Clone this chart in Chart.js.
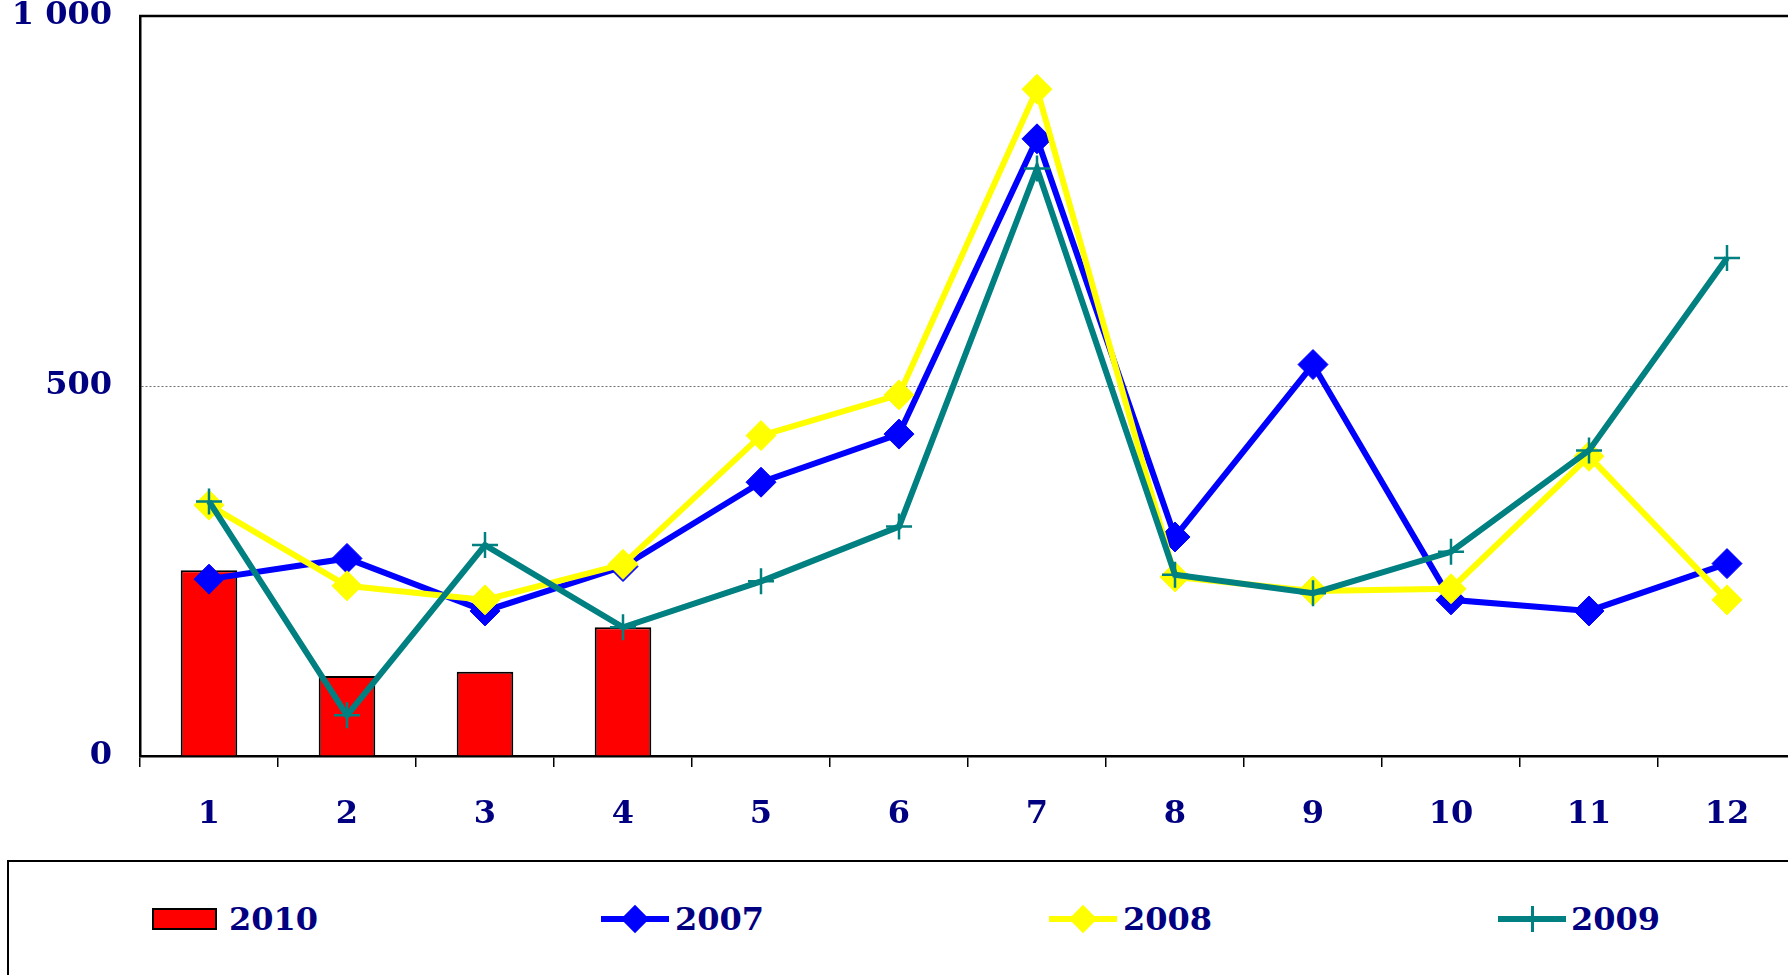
<!DOCTYPE html>
<html>
<head>
<meta charset="utf-8">
<script src="https://cdn.jsdelivr.net/npm/chart.js@4/dist/chart.umd.min.js"></script>
<style>
  html, body { margin: 0; padding: 0; background: #fff; overflow: hidden; }
  #wrap { position: relative; width: 1788px; height: 975px; overflow: hidden; }
  #chart { position: absolute; left: 0; top: 0; }
  #legend {
    position: absolute; left: 7px; top: 860px; width: 1800px; height: 140px;
    border: 2.5px solid #000; box-sizing: border-box;
  }
  .lab {
    position: absolute; font: bold 32px "DejaVu Serif", serif; color: #000080;
    line-height: 38px;
  }
  .sym { position: absolute; }
</style>
</head>
<body>
<div id="wrap">
  <!-- plot area runs a few px past the right edge, as in the original -->
  <canvas id="chart" width="1796" height="860"></canvas>
  <div id="legend"></div>
</div>
<script>
const months = ['1', '2', '3', '4', '5', '6', '7', '8', '9', '10', '11', '12'];
const yTickLabels = ['0', '500', '1 000'];

const v2010 = [251, 108, 114, 174];
const v2007 = [239, 267, 196, 256, 370, 435, 834, 296, 529, 211, 196, 260];
const v2008 = [339, 230, 211, 259, 433, 488, 901, 242, 223, 226, 405, 211];
const v2009 = [344, 55, 285, 174, 236, 310, 794, 245, 220, 276, 413, 673];

const navy = '#000080';
const tickFont = { family: 'DejaVu Serif', weight: 'bold', size: 32 };

// top frame line of the plot area
const topBorder = {
    id: 'topBorder',
    afterDraw(chart) {
        const { ctx, chartArea } = chart;
        ctx.save();
        ctx.strokeStyle = '#000';
        ctx.lineWidth = 2.5;
        ctx.beginPath();
        ctx.moveTo(chartArea.left - 1, chartArea.top);
        ctx.lineTo(chartArea.right, chartArea.top);
        ctx.stroke();
        ctx.restore();
    }
};

new Chart(document.getElementById('chart'), {
    data: {
        labels: months,
        datasets: [
            {
                type: 'bar', label: '2010', data: v2010, order: 4,
                backgroundColor: '#ff0000', borderColor: '#000', borderWidth: 2,
                barPercentage: 0.41, categoryPercentage: 1
            },
            {
                type: 'line', label: '2007', data: v2007, order: 3,
                borderColor: '#0000ff', borderWidth: 6, backgroundColor: '#0000ff',
                pointStyle: 'rectRot', pointRadius: 15, pointBorderWidth: 1,
                pointBorderColor: '#0000ff', pointBackgroundColor: '#0000ff', tension: 0
            },
            {
                type: 'line', label: '2008', data: v2008, order: 2,
                borderColor: '#ffff00', borderWidth: 6, backgroundColor: '#ffff00',
                pointStyle: 'rectRot', pointRadius: 15, pointBorderWidth: 1,
                pointBorderColor: '#ffff00', pointBackgroundColor: '#ffff00', tension: 0
            },
            {
                type: 'line', label: '2009', data: v2009, order: 1,
                borderColor: '#008080', borderWidth: 6, backgroundColor: '#008080',
                pointStyle: 'cross', pointRadius: 13, pointBorderWidth: 2.5,
                pointBorderColor: '#008080', tension: 0
            }
        ]
    },
    options: {
        responsive: false,
        animation: false,
        layout: { autoPadding: false, padding: 0 },
        plugins: {
            legend: { display: false },
            tooltip: { enabled: false }
        },
        scales: {
            x: {
                offset: true,
                grid: {
                    offset: true, drawOnChartArea: false, drawTicks: true,
                    tickLength: 11, color: '#000', lineWidth: 1.5
                },
                border: { display: true, color: '#000', width: 2.5 },
                ticks: { color: navy, font: tickFont, padding: 28, maxRotation: 0 },
                afterFit: s => { s.height = 104; s.paddingLeft = 0; s.paddingRight = 0; }
            },
            y: {
                min: 0, max: 1000,
                ticks: {
                    stepSize: 500, color: navy, font: tickFont, padding: 28,
                    callback: (v, i) => yTickLabels[i]
                },
                grid: {
                    drawTicks: false, lineWidth: 1,
                    color: c => c.tick && c.tick.value === 500 ? '#707070' : 'rgba(0,0,0,0)'
                },
                border: { display: true, color: '#000', width: 2.5, dash: [2, 2] },
                afterFit: s => { s.width = 140; s.paddingTop = 16; s.paddingBottom = 0; }
            }
        }
    },
    plugins: [topBorder]
});

// legend built as html, one entry per series
const legendItems = [
    { text: '2010', kind: 'box', color: '#ff0000', x: 143, tx: 220 },
    { text: '2007', kind: 'diamond', color: '#0000ff', x: 592, tx: 666 },
    { text: '2008', kind: 'diamond', color: '#ffff00', x: 1040, tx: 1114 },
    { text: '2009', kind: 'cross', color: '#008080', x: 1489, tx: 1562 }
];
const legendEl = document.getElementById('legend');
const cy = 57;
legendItems.forEach(it => {
    if (it.kind === 'box') {
        const b = document.createElement('div');
        b.className = 'sym';
        b.style.cssText = `left:${it.x}px;top:${cy - 11}px;width:65px;height:22px;background:${it.color};border:2px solid #000;box-sizing:border-box;`;
        legendEl.appendChild(b);
    } else {
        const line = document.createElement('div');
        line.className = 'sym';
        line.style.cssText = `left:${it.x}px;top:${cy - 3}px;width:68px;height:6px;background:${it.color};`;
        legendEl.appendChild(line);
        const m = document.createElement('div');
        m.className = 'sym';
        if (it.kind === 'diamond') {
            m.style.cssText = `left:${it.x + 34 - 10}px;top:${cy - 10}px;width:20px;height:20px;background:${it.color};transform:rotate(45deg);`;
        } else {
            m.style.cssText = `left:${it.x + 33}px;top:${cy - 13}px;width:2.5px;height:26px;background:${it.color};`;
        }
        legendEl.appendChild(m);
    }
    const t = document.createElement('div');
    t.className = 'lab';
    t.style.left = it.tx + 'px';
    t.style.top = (cy - 19) + 'px';
    t.textContent = it.text;
    legendEl.appendChild(t);
});
</script>
</body>
</html>
